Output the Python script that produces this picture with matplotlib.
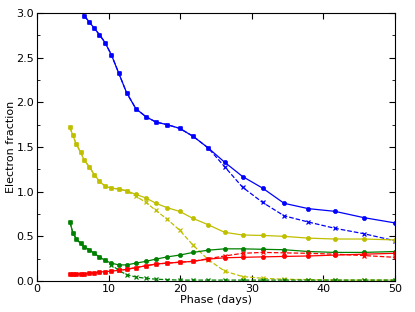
import matplotlib
matplotlib.use('Agg')
import matplotlib.pyplot as plt
from matplotlib.ticker import MultipleLocator

# phase grid (days)
phase = [4.6, 5.0, 5.5, 6.1, 6.6, 7.3, 8.0, 8.7, 9.5, 10.4, 11.4, 12.5, 13.8,
         15.2, 16.6, 18.2, 19.9, 21.8, 23.9, 26.2, 28.7, 31.5, 34.5, 37.9,
         41.6, 45.6, 50.0]

blue_full = [3.23, 3.18, 3.12, 3.04, 2.97, 2.90, 2.83, 2.76, 2.67, 2.53, 2.33,
             2.11, 1.93, 1.84, 1.78, 1.75, 1.71, 1.62, 1.49, 1.33, 1.17, 1.04,
             0.87, 0.81, 0.78, 0.71, 0.65]
blue_dash = [3.23, 3.18, 3.12, 3.04, 2.97, 2.90, 2.83, 2.76, 2.67, 2.53, 2.33,
             2.11, 1.93, 1.84, 1.78, 1.75, 1.71, 1.62, 1.49, 1.28, 1.05, 0.88,
             0.73, 0.66, 0.59, 0.53, 0.45]

yel_full = [1.72, 1.63, 1.53, 1.44, 1.35, 1.28, 1.19, 1.12, 1.06, 1.04, 1.03,
            1.01, 0.97, 0.93, 0.87, 0.82, 0.78, 0.70, 0.63, 0.545, 0.515, 0.51,
            0.50, 0.48, 0.47, 0.47, 0.46]
yel_dash = [1.72, 1.63, 1.53, 1.44, 1.35, 1.28, 1.19, 1.12, 1.06, 1.04, 1.03,
            1.01, 0.95, 0.88, 0.79, 0.69, 0.57, 0.40, 0.24, 0.11, 0.05, 0.03,
            0.02, 0.015, 0.01, 0.01, 0.01]

grn_full = [0.66, 0.54, 0.47, 0.42, 0.38, 0.35, 0.31, 0.27, 0.23, 0.20, 0.18,
            0.18, 0.20, 0.22, 0.245, 0.27, 0.29, 0.32, 0.345, 0.36, 0.36, 0.355,
            0.35, 0.33, 0.32, 0.32, 0.33]
grn_dash = [0.66, 0.54, 0.47, 0.42, 0.38, 0.35, 0.31, 0.27, 0.23, 0.18, 0.12,
            0.07, 0.045, 0.03, 0.02, 0.015, 0.01, 0.01, 0.01, 0.01, 0.01, 0.01,
            0.01, 0.01, 0.01, 0.01, 0.01]

red_full = [0.08, 0.075, 0.078, 0.08, 0.082, 0.086, 0.09, 0.10, 0.105, 0.11,
            0.12, 0.13, 0.15, 0.17, 0.19, 0.20, 0.21, 0.22, 0.245, 0.26, 0.265,
            0.27, 0.275, 0.28, 0.29, 0.30, 0.31]
red_dash = [0.08, 0.075, 0.078, 0.08, 0.082, 0.086, 0.09, 0.10, 0.105, 0.11,
            0.12, 0.13, 0.15, 0.17, 0.19, 0.20, 0.21, 0.22, 0.25, 0.28, 0.31,
            0.32, 0.315, 0.31, 0.30, 0.285, 0.265]

series = [
    (blue_full, blue_dash, 'b'),
    (yel_full, yel_dash, 'y'),
    (grn_full, grn_dash, 'g'),
    (red_full, red_dash, 'r'),
]
cmap = {'b': (0, 0, 1), 'y': (0.75, 0.75, 0), 'g': (0, 0.5, 0), 'r': (1, 0, 0)}

fig = plt.figure(figsize=(4.15, 3.12), dpi=100)
ax = fig.add_axes([0.0892, 0.0994, 0.8628, 0.8586])

for full, dash, c in series:
    col = cmap[c]
    ax.plot(phase, dash, color=col, linestyle='--', linewidth=0.9,
            marker='x', markersize=3.2, markeredgewidth=0.9)
    ax.plot(phase, full, color=col, linestyle='-', linewidth=0.9,
            marker='o', markersize=3.0, markeredgewidth=0.5,
            markeredgecolor=col)

ax.set_xlim(0, 50)
ax.set_ylim(0, 3.0)
ax.xaxis.set_major_locator(MultipleLocator(10))
ax.yaxis.set_major_locator(MultipleLocator(0.5))
ax.yaxis.set_minor_locator(MultipleLocator(0.25))
ax.tick_params(which='both', direction='in', top=True, right=True,
               labelsize=8, pad=2)
ax.tick_params(which='major', length=4, width=0.8)
ax.tick_params(which='minor', length=2, width=0.6)
ax.set_xlabel('Phase (days)', fontsize=8, labelpad=1)
ax.set_ylabel('Electron fraction', fontsize=8, labelpad=0)

fig.savefig('out.png', dpi=100)
